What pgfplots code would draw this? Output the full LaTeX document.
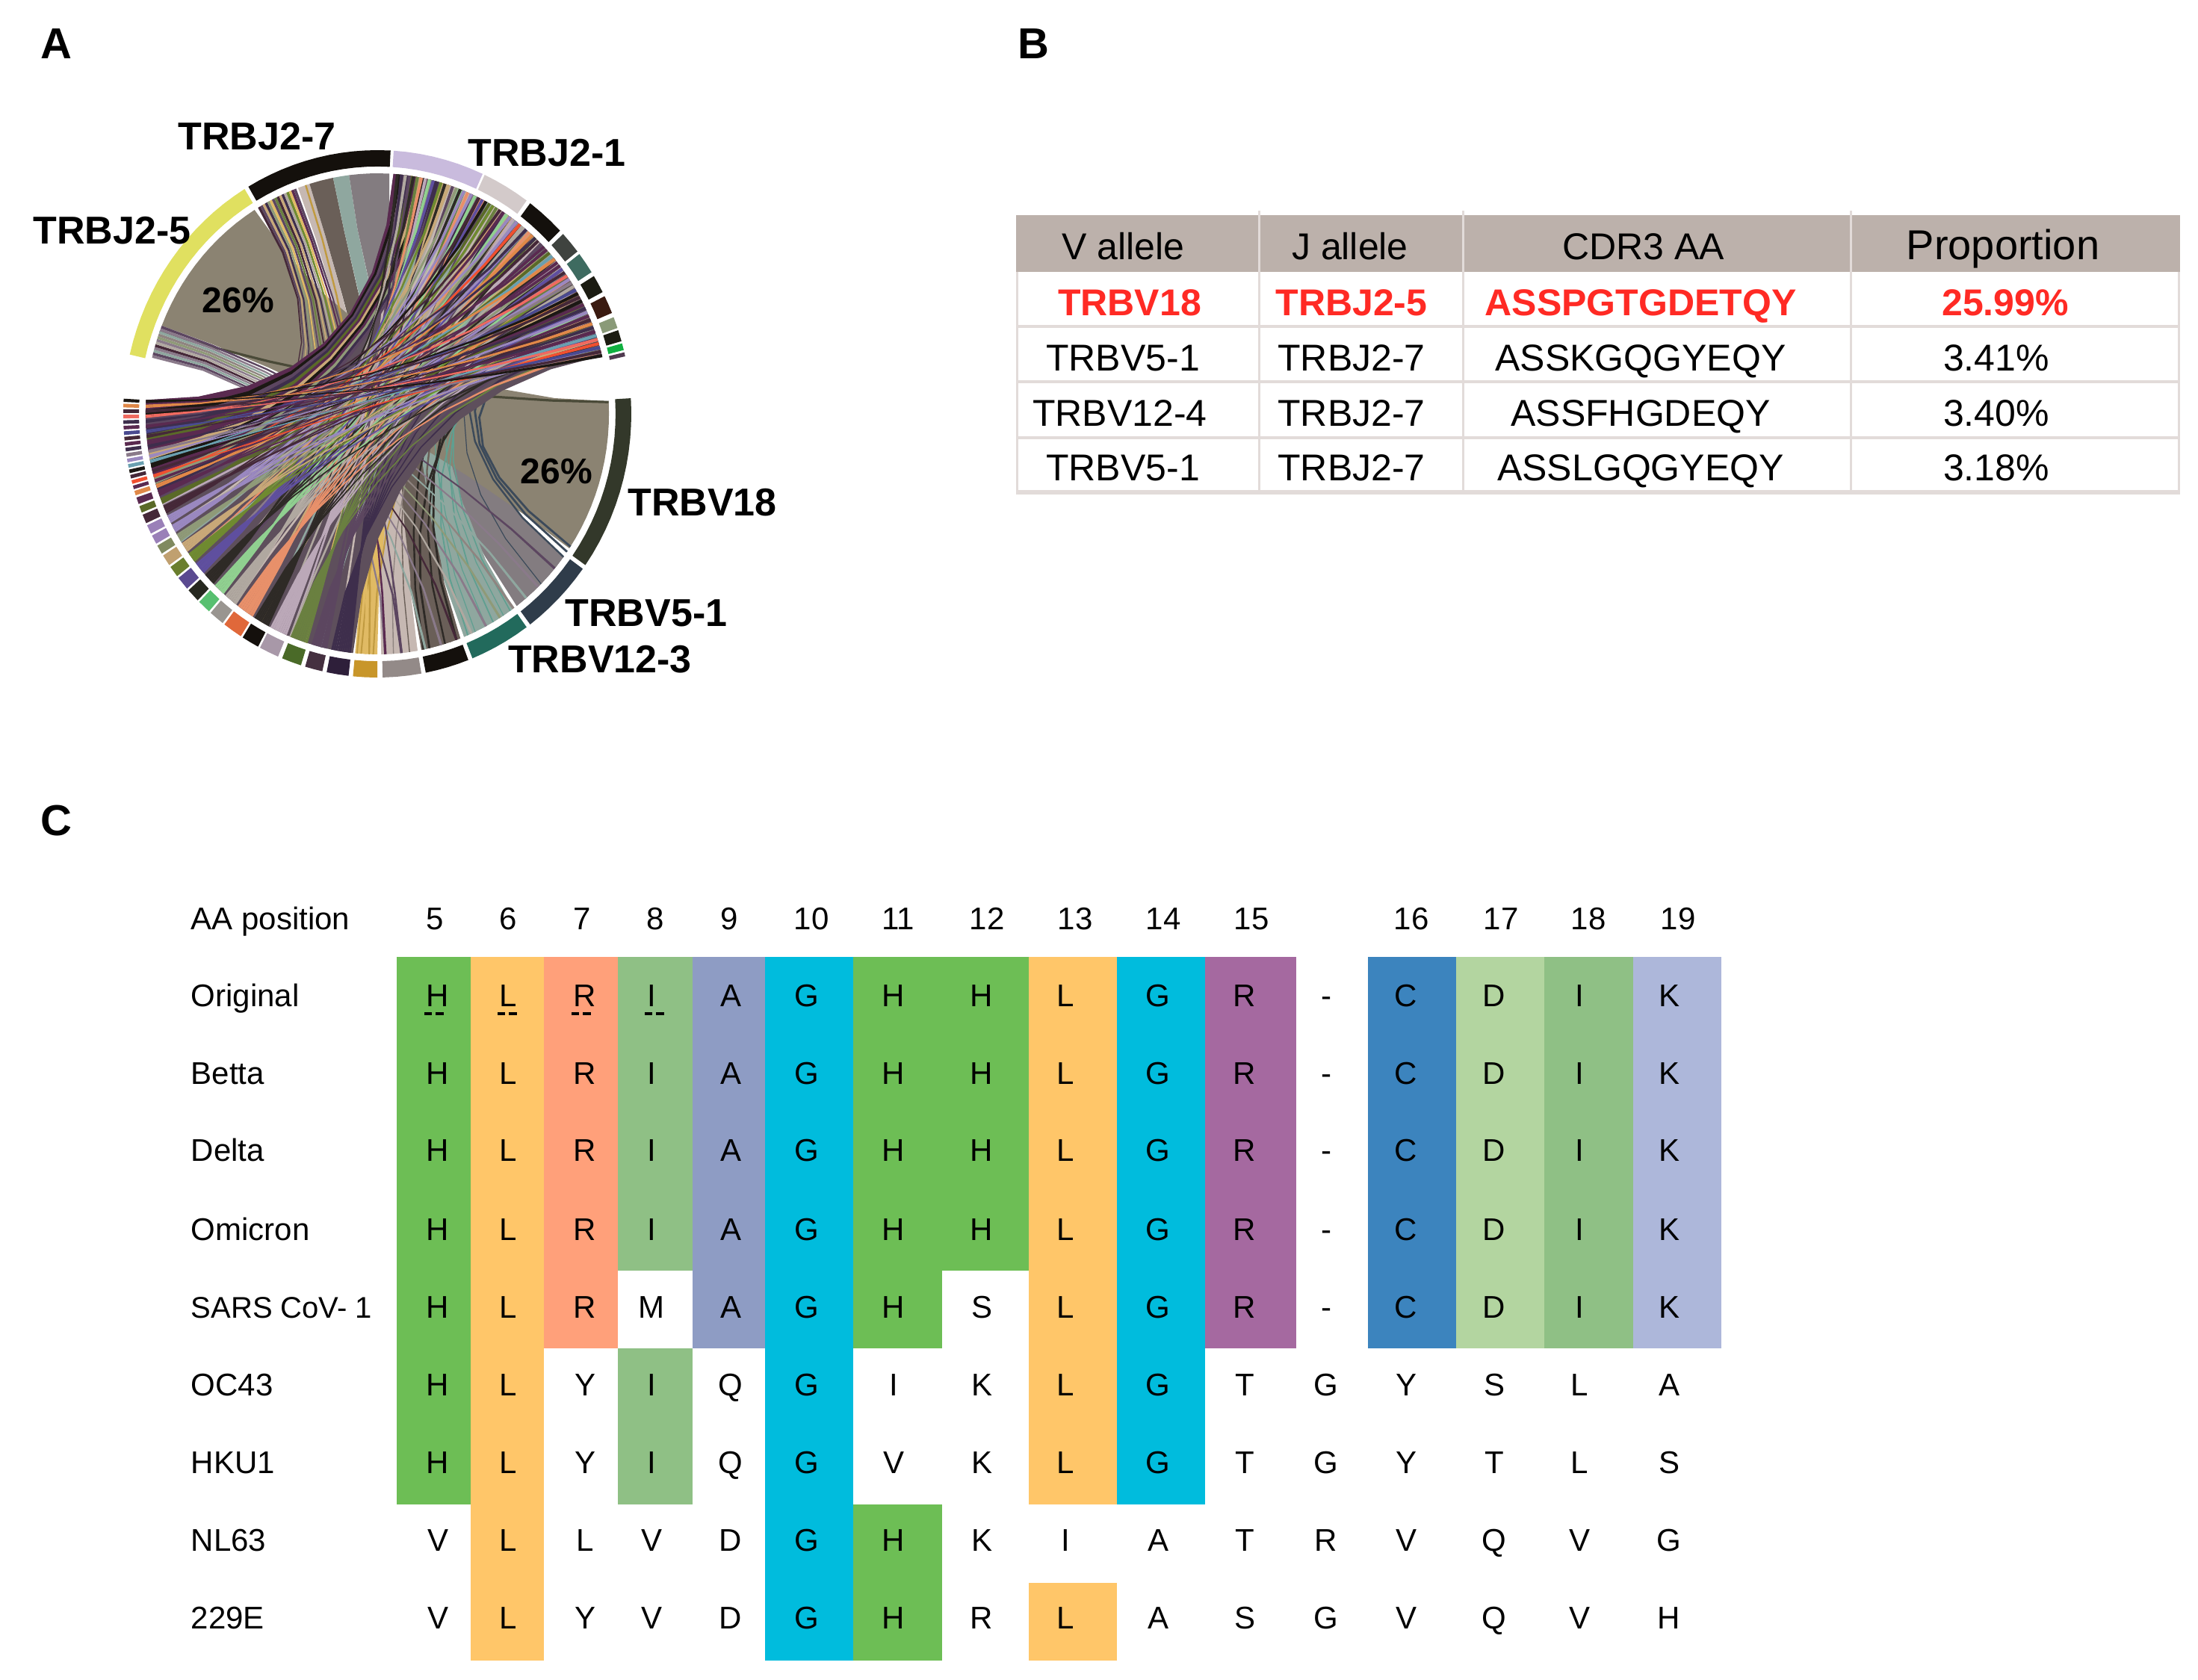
\documentclass[border=0pt]{standalone}
\usepackage{fontspec}
\setmainfont{Liberation Sans}
\usepackage{pgfplots}
\pgfplotsset{compat=1.18}
\definecolor{cH}{HTML}{6DBE55}\definecolor{cL}{HTML}{FFC669}\definecolor{cR}{HTML}{FFA07A}
\definecolor{cI}{HTML}{8FC085}\definecolor{cA}{HTML}{8E9CC4}\definecolor{cG}{HTML}{00BCDD}
\definecolor{cP}{HTML}{A569A0}\definecolor{cC}{HTML}{3C84BE}\definecolor{cD}{HTML}{B3D5A0}
\definecolor{cK}{HTML}{ADB7DA}
\definecolor{hdr}{HTML}{BCB1AB}\definecolor{rule}{HTML}{E2DBD9}\definecolor{redt}{HTML}{FF2A24}
\definecolor{dp}{HTML}{3E2E4C}\definecolor{mv}{HTML}{5C4660}\definecolor{gn}{HTML}{6A8040}
\definecolor{pg}{HTML}{BBA8B8}\definecolor{bk}{HTML}{2E2A26}\definecolor{or}{HTML}{E8906A}
\definecolor{gy}{HTML}{B0A8A0}\definecolor{lg}{HTML}{90D090}\definecolor{pu}{HTML}{5F4F9F}
\definecolor{ol}{HTML}{6F8A30}\definecolor{tn}{HTML}{C8A878}\definecolor{og}{HTML}{8F9A78}
\definecolor{li}{HTML}{9A88C0}\definecolor{mr}{HTML}{452838}\definecolor{o2}{HTML}{5A6A28}
\definecolor{m2}{HTML}{5A2A50}\definecolor{o3}{HTML}{E08848}\definecolor{re}{HTML}{F05030}
\definecolor{pk}{HTML}{F06A60}\definecolor{tb}{HTML}{6AA0B0}\definecolor{bl}{HTML}{4A4A90}
\definecolor{te}{HTML}{5F9F90}\definecolor{sl}{HTML}{3C4A5A}\definecolor{gd}{HTML}{E0BA64}
\definecolor{dk}{HTML}{1C1814}\definecolor{gm}{HTML}{8A7A8A}\definecolor{wg}{HTML}{8B8372}
\definecolor{dol}{HTML}{4A4A38}\definecolor{band}{HTML}{5E4F5C}
\definecolor{xa}{HTML}{837C80}\definecolor{xb}{HTML}{8FA79F}\definecolor{xc}{HTML}{6A5F58}
\definecolor{xd}{HTML}{C6B8B2}\definecolor{xe}{HTML}{8F8480}\definecolor{xf}{HTML}{C09A40}
\definecolor{rY}{HTML}{E0E060}\definecolor{rK}{HTML}{14100C}\definecolor{rLi}{HTML}{C9BBDD}
\definecolor{rLg}{HTML}{D3CACA}\definecolor{rDg}{HTML}{3F433F}\definecolor{rTe}{HTML}{3E6B60}
\definecolor{rB2}{HTML}{1C1C12}\definecolor{rBr}{HTML}{3A1A10}\definecolor{rGg}{HTML}{8A9A78}
\definecolor{rGn}{HTML}{10B040}\definecolor{rPu}{HTML}{503A50}
\definecolor{rV}{HTML}{33382A}\definecolor{rS}{HTML}{2F3C4A}\definecolor{rT}{HTML}{226A5C}
\definecolor{rGy}{HTML}{938A88}\definecolor{rGd}{HTML}{C8962A}\definecolor{rDp}{HTML}{2E1F3A}
\definecolor{rMv}{HTML}{453040}\definecolor{rGr}{HTML}{4A6A28}\definecolor{rPg}{HTML}{A898A8}
\definecolor{rOr}{HTML}{E0683A}\definecolor{rG9}{HTML}{999590}\definecolor{rLn}{HTML}{58C070}
\definecolor{rD2}{HTML}{26281F}\definecolor{rPp}{HTML}{5A4A90}\definecolor{rOl}{HTML}{6A7E2E}
\definecolor{rTn}{HTML}{C0A070}\definecolor{rOg}{HTML}{808A60}\definecolor{rLl}{HTML}{9A80B8}
\newcommand\rr{0.912}
\newcommand\AP[2]{\pgfmathsetmacro\px{505+340*#2*cos(#1)}\pgfmathsetmacro\py{554-353*#2*sin(#1)}}
\newcommand\addarc[3]{\pgfmathtruncatemacro\nn{max(1,ceil(abs(#2-(#1))/3))}%
  \foreach \k in {0,...,\nn}{\pgfmathsetmacro\ang{#1+(#2-(#1))*\k/\nn}\AP{\ang}{#3}\xdef\clist{\clist(\px,\py)}}}
\newcommand\addbez[3]{\AP{#1}{\rr}\let\xa\px\let\ya\py\AP{#2}{\rr}\let\xb\px\let\yb\py
  \foreach \t in {#3}{%
    \pgfmathsetmacro\qx{(1-\t)*(1-\t)*\xa+2*\t*(1-\t)*505+\t*\t*\xb}%
    \pgfmathsetmacro\qy{(1-\t)*(1-\t)*\ya+2*\t*(1-\t)*535+\t*\t*\yb}%
    \xdef\clist{\clist(\qx,\qy)}}}
\newcommand\ringseg[3]{\gdef\clist{}\addarc{#1}{#2}{1.0}\addarc{#2}{#1}{0.938}%
  \edef\tmp{\noexpand\addplot[fill=#3,draw=none,forget plot] coordinates {\clist};}\tmp}
\newcommand\ribbon[5]{\gdef\clist{}\addarc{#1}{#2}{\rr}\addbez{#2}{#3}{.12,.25,.38,.5,.62,.75,.88}%
  \addarc{#3}{#4}{\rr}\addbez{#4}{#1}{.12,.25,.38,.5,.62,.75,.88}%
  \edef\tmp{\noexpand\addplot[fill=#5,draw=none,forget plot] coordinates {\clist};}\tmp}
\newcommand\chord[4]{\gdef\clist{}\addbez{#1}{#2}{0,.125,.25,.375,.5,.625,.75,.875,1}%
  \edef\tmp{\noexpand\addplot[draw=#3,line width=#4pt,line join=round,forget plot] coordinates {\clist};}\tmp}
% sector of the lower half: one tapered ribbon per listed target angle in the upper half
\newcommand\fan[4]{\foreach \q [count=\n] in {#4}{\xdef\nt{\n}}%
  \foreach \q [count=\n] in {#4}{%
    \pgfmathsetmacro\vb{#1+(\n-1)*(#2-(#1))/\nt}%
    \pgfmathsetmacro\vc{#1+\n*(#2-(#1))/\nt}%
    \pgfmathsetmacro\ja{\q+.38}\pgfmathsetmacro\jb{\q-.38}%
    \ribbon{\ja}{\jb}{\vb}{\vc}{#3}}}
% sector of the upper half: one tapered ribbon per target/colour pair in the lower half
\newcommand\mfan[3]{\foreach \q/\w [count=\n] in {#3}{\xdef\nt{\n}}%
  \foreach \q/\w [count=\n] in {#3}{%
    \pgfmathsetmacro\vb{#1+(\n-1)*(#2-(#1))/\nt}%
    \pgfmathsetmacro\vc{#1+\n*(#2-(#1))/\nt}%
    \pgfmathsetmacro\ja{\q+.3}\pgfmathsetmacro\jb{\q-.3}%
    \ribbon{\vb}{\vc}{\ja}{\jb}{\w}}}
\newcommand\Rect[5]{\addplot[fill=#5,draw=none,forget plot] coordinates {(#1,#3)(#2,#3)(#2,#4)(#1,#4)};}
\newcommand\T[3]{\node[anchor=base,inner sep=0pt] at (axis cs:#1,#2) {#3};}
\newcommand\Tl[3]{\node[anchor=base west,inner sep=0pt] at (axis cs:#1,#2) {\fontsize{10.5}{12}\selectfont #3};}
\newcommand\RowL[2]{\foreach \l [count=\i] in {#2}{%
  \pgfmathsetmacro\xx{{586,680,783,872,978,1080,1196,1314,1426,1550,1666,1775,1882,2000,2114,2234}[\i-1]}%
  \edef\tmp{\noexpand\node[anchor=base,inner sep=0pt] at (axis cs:\xx,#1) {\noexpand\fontsize{10.5}{12}\noexpand\selectfont \l};}\tmp}}
\begin{document}
\begin{tikzpicture}
\begin{axis}[width=735.5pt,height=562pt,scale only axis,hide axis,
  xmin=0,xmax=2942,ymin=0,ymax=2248,y dir=reverse,no markers]
\addplot[fill=white,draw=none,forget plot] coordinates {(0,0)(2942,0)(2942,2248)(0,2248)};
% ---- panel A: slabs of the J2-7 sector
\ribbon{110}{107}{-80}{-89}{xd}
\ribbon{107}{101}{-69}{-79}{xc}
\ribbon{101}{97}{-54}{-68}{xb}
\ribbon{97}{87}{-36.5}{-53}{xa}
% slabs of the lower right sectors, their upper ends lie under the band
\ribbon{86}{50}{-80}{-89}{xd}
\ribbon{80}{40}{-69}{-79}{xc}
\ribbon{70}{30}{-54}{-68}{xb}
\ribbon{60}{20}{-36.5}{-53}{xa}
\ribbon{84}{60}{-90}{-95.5}{gd}
% the 26% ribbon
\ribbon{158.5}{122}{3}{-34}{wg}
% thin chords in the lower right
\chord{2.8}{160}{dol}{.8}
\foreach \a/\t/\c/\w in {-33.5/22/sl/.7,-35/30/sl/.7,-36.5/40/sl/.6,-45/38/sl/.3,
  -55/42/te/.4,-57/52/te/.3,-60/34/te/.45,-62/60/te/.3,-65/46/te/.3,-67/28/te/.45,
  -70/38/bk/.7,-71.5/50/xc/.6,-73/30/bk/.6,-75/58/xc/.5,-77/24/bk/.7,-78.5/44/bk/.6,
  -82/64/xc/.35,-86/46/xe/.35,-92/108/xf/.6,-94/56/xf/.5,-91/40/xf/.5,-95/76/xf/.4}
  {\chord{\a}{\t}{\c}{\w}}
% thin chords from the top left
\mfan{166.5}{158.5}{-88/gm,-84/mv,-78/xb,-74/gm,-70/mr,-66/gy,-62/gm,-58/og,-54/xe,-50/xb,-46/gm,-40/mv}
\mfan{121}{110.5}{-155/mr,-150/mv,-145/tn,-140/dp,-134/og,-128/gd,-122/mv,-118/gn,-113/mr,-108/tn,-104/dp,-100/gy,-97/ol,-93/gd,-88/m2,-84/mv}
% dark underlay of the dense crossing band
\ribbon{86}{14}{-96}{-183.3}{band}
% lighter strips near the J2-1 rim
\mfan{86}{54}{-100/xd,-104/mv,-108/gd,-112/pg,-116/gy,-120/xb,-124/tn,-128/xd,-132/lg,-136/xd,-140/gm,-144/or,-148/xb,-152/xd,-156/gy,-160/tn}
\mfan{54}{36}{-104/xb,-112/gy,-120/tn,-128/xd,-136/mv,-144/xb,-152/gy,-158/pg}
% stripes along the upper left edge of the band
\foreach \a/\b/\v/\w/\c in {86/85/-181/-183.3/m2,85/84/-179/-181/dk,84/83/-177/-179/mv,83/82/-175/-177/dp,
  82/81/-173/-175/o2,81/80/-171/-173/m2,80/79/-169/-171/tn,79/78/-167/-169/dk,78/77/-165/-167/m2,77/76/-163/-165/og,
  76/75/-161/-163/dp,75/74/-159/-161/mv}
  {\edef\tmpb{\noexpand\ribbon{\a}{\b}{\v}{\w}{\c}}\tmpb}
% fans of the lower half to the upper right
\fan{-96.5}{-101.5}{dp}{84,75,66,57,48,40,33,26,18}
\fan{-102.5}{-106.5}{mv}{82,71,62,53,45,37,29,20}
\fan{-107.5}{-112}{gn}{80,68,59,50,43,35,27,16}
\fan{-113}{-117.5}{pg}{78,70,61,54,46,39,31,23}
\fan{-118}{-122}{bk}{85,73,64,55,47,38,28,19}
\fan{-122.5}{-127}{or}{79,67,58,49,41,34,24,15}
\fan{-127.5}{-131}{gy}{83,72,60,51,42,32,21}
\fan{-131.5}{-134.5}{lg}{77,65,56,44,36,25}
\fan{-135}{-138}{bk}{81,69,52,40,30,17}
\fan{-138.5}{-141.5}{pu}{76,63,50,37,26,19}
\fan{-142}{-144.5}{ol}{74,60,47,33,22}
\fan{-145}{-147.5}{tn}{72,58,43,29,18}
\fan{-148}{-150}{og}{70,55,38,24}
\fan{-150.5}{-152.5}{li}{68,53,36,20}
\fan{-153}{-155}{li}{66,50,34,16}
\fan{-155.5}{-157.5}{mr}{64,46,28,23}
\fan{-158}{-159.5}{o2}{61,42,27}
\fan{-160}{-161.5}{m2}{57,39,20}
\fan{-162}{-163}{o3}{48,30}
\foreach \a/\b/\c/\p/\s in {-163.4/-164.2/m2/44/24,-164.6/-165.4/re/52/17,-165.8/-166.6/mr/36/22,
  -167/-167.8/dk/62/28,-168.2/-169/tb/41/19,-169.4/-170.2/li/55/25,-170.6/-171.4/gm/33/15,
  -171.8/-172.6/dp/47/21,-173/-173.8/m2/38/27,-174.2/-175/mr/58/23,-175.4/-176.2/bl/31/16,
  -176.6/-177.4/m2/43/20,-177.8/-178.6/dp/50/26,-179/-179.8/pk/35/18,-180.2/-181/mr/29/15,
  -181.4/-182.2/o3/40/22,-182.6/-183.3/dk/30/14}
  {\edef\tmpb{\noexpand\fan{\a}{\b}{\c}{\p,\s}}\tmpb}
% ---- ring
\ringseg{167}{121.5}{rY}\ringseg{120.5}{87}{rK}\ringseg{86.3}{65.5}{rLi}\ringseg{65}{54}{rLg}
\ringseg{53}{44}{rK}\ringseg{43}{38}{rDg}\ringseg{37.3}{32.5}{rTe}\ringseg{31.5}{27.5}{rB2}
\ringseg{26.5}{22.5}{rBr}\ringseg{21.5}{19}{rGg}\ringseg{18.5}{16}{rB2}\ringseg{15.5}{14}{rGn}\ringseg{13.5}{12.6}{rPu}
\ringseg{3.4}{-35}{rV}\ringseg{-36}{-53}{rS}\ringseg{-54}{-68}{rT}\ringseg{-69}{-79}{rK}
\ringseg{-80}{-88.8}{rGy}\ringseg{-90}{-95.5}{rGd}\ringseg{-96.5}{-101.5}{rDp}\ringseg{-102.5}{-106.5}{rMv}
\ringseg{-107.5}{-112}{rGr}\ringseg{-113}{-117.5}{rPg}\ringseg{-118}{-122}{rK}\ringseg{-122.5}{-127}{rOr}
\ringseg{-127.5}{-131}{rG9}\ringseg{-131.5}{-134.5}{rLn}\ringseg{-135}{-138}{rD2}\ringseg{-138.5}{-141.5}{rPp}
\ringseg{-142}{-144.5}{rOl}\ringseg{-145}{-147.5}{rTn}\ringseg{-148}{-150}{rOg}\ringseg{-150.5}{-152.5}{rLl}
\ringseg{-153}{-155}{rLl}\ringseg{-155.5}{-157.5}{mr}\ringseg{-158}{-159.5}{o2}\ringseg{-160}{-161.5}{m2}
\ringseg{-162}{-163}{o3}
\foreach \a/\b/\c in {-163.4/-164.2/m2,-164.6/-165.4/re,-165.8/-166.6/mr,-167/-167.8/dk,-168.2/-169/tb,
  -169.4/-170.2/li,-170.6/-171.4/gm,-171.8/-172.6/dp,-173/-173.8/m2,-174.2/-175/mr,-175.4/-176.2/bl,
  -176.6/-177.4/m2,-177.8/-178.6/dp,-179/-179.8/pk,-180.2/-181/mr,-181.4/-182.2/o3,-182.6/-183.3/dk}
  {\edef\tmpb{\noexpand\ringseg{\a}{\b}{\c}}\tmpb}
% ---- chart labels
\T{75}{79}{\fontsize{14.5}{16}\selectfont\bfseries A}
\T{1383}{79}{\fontsize{14.5}{16}\selectfont\bfseries B}
\T{75}{1118}{\fontsize{14.5}{16}\selectfont\bfseries C}
\T{344}{200}{\fontsize{13}{15}\selectfont\bfseries TRBJ2-7}
\T{732}{222}{\fontsize{13}{15}\selectfont\bfseries TRBJ2-1}
\T{150}{326}{\fontsize{13}{15}\selectfont\bfseries TRBJ2-5}
\T{940}{690}{\fontsize{13}{15}\selectfont\bfseries TRBV18}
\T{865}{838}{\fontsize{13}{15}\selectfont\bfseries TRBV5-1}
\T{803}{900}{\fontsize{13}{15}\selectfont\bfseries TRBV12-3}
\T{319}{418}{\fontsize{12}{14}\selectfont\bfseries 26\%}
\T{745}{647}{\fontsize{12}{14}\selectfont\bfseries 26\%}
% ---- panel B
\Rect{1360}{2918}{288}{364}{hdr}
\Rect{1360}{2918}{435}{439}{rule}\Rect{1360}{2918}{509}{513}{rule}
\Rect{1360}{2918}{584}{588}{rule}\Rect{1360}{2918}{656}{662}{rule}
\Rect{1360}{1363}{364}{660}{rule}\Rect{1684}{1687}{282}{660}{rule}\Rect{1957}{1960}{282}{660}{rule}
\Rect{2476}{2479}{282}{660}{rule}\Rect{2915}{2918}{364}{660}{rule}
\newcommand\fb{\fontsize{12.5}{14}\selectfont}
\T{1503}{347}{\fb V allele}\T{1807}{347}{\fb J allele}\T{2200}{347}{\fb CDR3 AA}\T{2681}{347}{\fontsize{14}{16}\selectfont Proportion}
\T{1512}{422}{\fb\bfseries\color{redt}TRBV18}\T{1809}{422}{\fb\bfseries\color{redt}TRBJ2-5}
\T{2196}{422}{\fb\bfseries\color{redt}ASSPGTGDETQY}\T{2684}{422}{\fb\bfseries\color{redt}25.99\%}
\T{1503}{496}{\fb TRBV5-1}\T{1809}{496}{\fb TRBJ2-7}\T{2196}{496}{\fb ASSKGQGYEQY}\T{2672}{496}{\fb 3.41\%}
\T{1499}{570}{\fb TRBV12-4}\T{1809}{570}{\fb TRBJ2-7}\T{2196}{570}{\fb ASSFHGDEQY}\T{2672}{570}{\fb 3.40\%}
\T{1503}{643}{\fb TRBV5-1}\T{1809}{643}{\fb TRBJ2-7}\T{2196}{643}{\fb ASSLGQGYEQY}\T{2672}{643}{\fb 3.18\%}
% ---- panel C
\Rect{531}{630}{1281}{2014}{cH}\Rect{630}{728}{1281}{2223}{cL}\Rect{728}{827}{1281}{1805}{cR}
\Rect{827}{927}{1281}{1701}{cI}\Rect{827}{927}{1805}{2014}{cI}\Rect{927}{1024}{1281}{1805}{cA}
\Rect{1024}{1142}{1281}{2223}{cG}\Rect{1142}{1261}{1281}{1805}{cH}\Rect{1142}{1261}{2014}{2223}{cH}
\Rect{1261}{1377}{1281}{1701}{cH}\Rect{1377}{1495}{1281}{2014}{cL}\Rect{1377}{1495}{2119}{2223}{cL}
\Rect{1495}{1613}{1281}{2014}{cG}\Rect{1613}{1735}{1281}{1805}{cP}
\Rect{1831}{1949}{1281}{1805}{cC}\Rect{1949}{2067}{1281}{1805}{cD}\Rect{2067}{2186}{1281}{1805}{cI}\Rect{2186}{2304}{1281}{1805}{cK}
\foreach \x/\lab in {582/5,680/6,779/7,877/8,976/9,1086/10,1202/11,1321/12,1439/13,1557/14,1675/15,1889/16,2009/17,2126/18,2246/19}
  {\edef\tmp{\noexpand\node[anchor=base,inner sep=0pt] at (axis cs:\x,1244) {\noexpand\fontsize{10.5}{12}\noexpand\selectfont \lab};}\tmp}
\Tl{255}{1244}{AA position}\Tl{255}{1347}{Original}\Tl{255}{1451}{Betta}\Tl{255}{1554}{Delta}
\Tl{255}{1660}{Omicron}\Tl{255}{1764}{\fontsize{10}{12}\selectfont SARS CoV- 1}\Tl{255}{1868}{OC43}\Tl{255}{1972}{HKU1}\Tl{255}{2076}{NL63}\Tl{255}{2180}{229E}
\RowL{1347}{H,L,R,I,A,G,H,H,L,G,R,-,C,D,I,K}
\RowL{1451}{H,L,R,I,A,G,H,H,L,G,R,-,C,D,I,K}
\RowL{1554}{H,L,R,I,A,G,H,H,L,G,R,-,C,D,I,K}
\RowL{1660}{H,L,R,I,A,G,H,H,L,G,R,-,C,D,I,K}
\RowL{1764}{H,L,R,M,A,G,H,S,L,G,R,-,C,D,I,K}
\RowL{1868}{H,L,Y,I,Q,G,I,K,L,G,T,G,Y,S,L,A}
\RowL{1972}{H,L,Y,I,Q,G,V,K,L,G,T,G,Y,T,L,S}
\RowL{2076}{V,L,L,V,D,G,H,K,I,A,T,R,V,Q,V,G}
\RowL{2180}{V,L,Y,V,D,G,H,R,L,A,S,G,V,Q,V,H}
\foreach \a/\b in {568/597,666/695,765/794,863/892}
  {\edef\tmp{\noexpand\addplot[black,line width=1pt,dash pattern=on 2.6pt off 1.2pt,forget plot] coordinates {(\a,1357)(\b,1357)};}\tmp}
\end{axis}
\end{tikzpicture}
\end{document}
